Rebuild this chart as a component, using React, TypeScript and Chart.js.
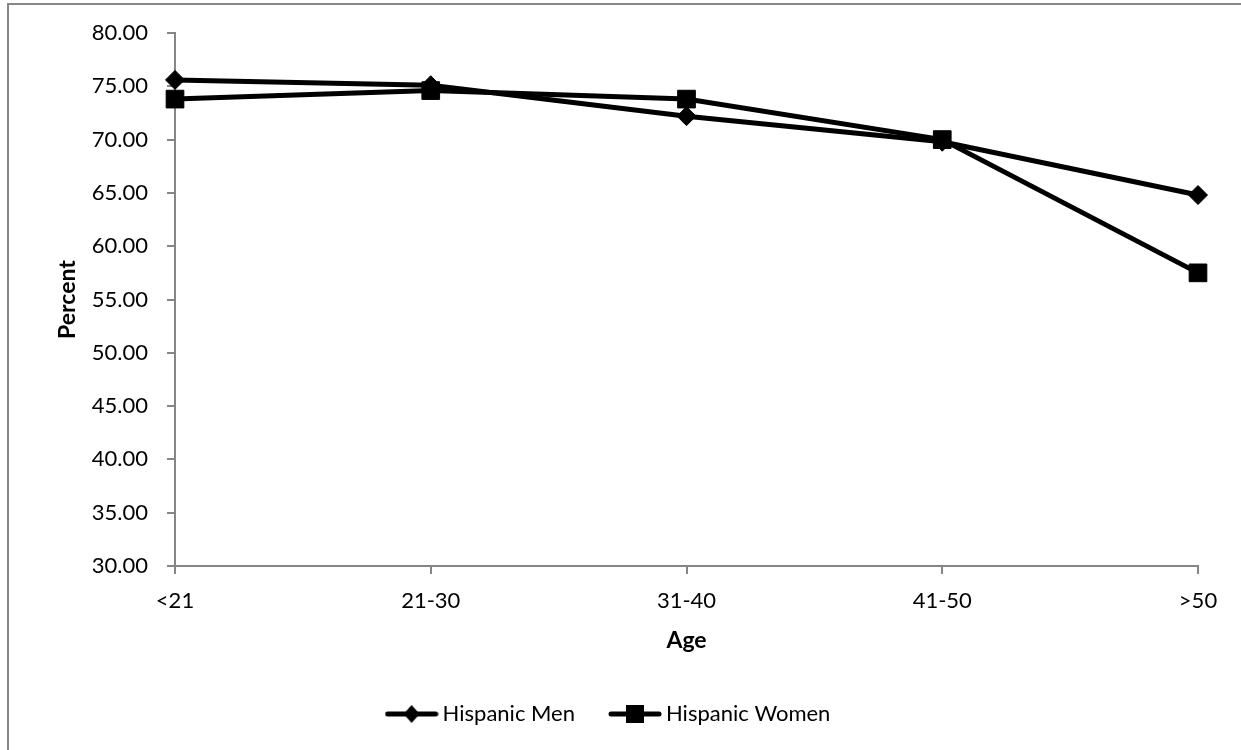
import React, { useEffect, useRef } from "react";
import { Chart, registerables } from "chart.js";

Chart.register(...registerables);

const categories = ["<21", "21-30", "31-40", "41-50", ">50"];
const menValues = [75.6, 75.1, 72.2, 69.8, 64.8];
const womenValues = [73.8, 74.6, 73.8, 70.0, 57.5];
const seriesNames = ["Hispanic Men", "Hispanic Women"];
const yMin = 30;
const yMax = 80;
const yStep = 5;

const FONT = "Lato, 'Open Sans', sans-serif";
const AXIS_GRAY = "#868686";

function makeIcon(style: "diamond" | "square"): HTMLCanvasElement {
  const c = document.createElement("canvas");
  c.width = 54;
  c.height = 22;
  const ctx = c.getContext("2d")!;
  ctx.strokeStyle = "#000";
  ctx.fillStyle = "#000";
  ctx.lineWidth = 5;
  ctx.lineCap = "round";
  ctx.beginPath();
  ctx.moveTo(3, 11);
  ctx.lineTo(51, 11);
  ctx.stroke();
  ctx.beginPath();
  if (style === "diamond") {
    ctx.moveTo(27, 2);
    ctx.lineTo(35, 11);
    ctx.lineTo(27, 20);
    ctx.lineTo(19, 11);
    ctx.closePath();
  } else {
    ctx.rect(18, 2, 18, 18);
  }
  ctx.fill();
  return c;
}

export default function App() {
  const canvasRef = useRef<HTMLCanvasElement | null>(null);

  useEffect(() => {
    if (!canvasRef.current) return;
    const icons = [makeIcon("diamond"), makeIcon("square")];
    const chart = new Chart(canvasRef.current, {
      type: "line",
      data: {
        labels: categories,
        datasets: [
          {
            label: seriesNames[0],
            data: menValues,
            borderColor: "#000",
            backgroundColor: "#000",
            borderWidth: 5,
            pointStyle: "rectRot",
            pointRadius: 9.5,
            pointBorderWidth: 1,
            pointBorderColor: "#000",
            pointBackgroundColor: "#000",
            tension: 0,
            order: 2,
          },
          {
            label: seriesNames[1],
            data: womenValues,
            borderColor: "#000",
            backgroundColor: "#000",
            borderWidth: 5,
            pointStyle: "rect",
            pointRadius: 12.5,
            pointBorderWidth: 1,
            pointBorderColor: "#000",
            pointBackgroundColor: "#000",
            tension: 0,
            order: 1,
          },
        ],
      },
      options: {
        responsive: false,
        animation: false,
        devicePixelRatio: 1,
        layout: { padding: { top: 33, right: 43, left: 24, bottom: 15 } },
        plugins: {
          title: { display: false },
          tooltip: { enabled: false },
          legend: {
            display: true,
            position: "bottom",
            labels: {
              usePointStyle: true,
              pointStyleWidth: 40,
              padding: 40,
              color: "#000",
              font: { family: FONT, size: 22 },
              generateLabels: (ch: any) =>
                ch.data.datasets.map((ds: any, i: number) => ({
                  text: ds.label,
                  fillStyle: "#000",
                  strokeStyle: "#000",
                  lineWidth: 0,
                  pointStyle: icons[i],
                  hidden: false,
                  datasetIndex: i,
                  fontColor: "#000",
                })),
            },
          },
        },
        scales: {
          x: {
            type: "category",
            offset: false,
            afterFit: (s: any) => {
              s.height = 97;
            },
            grid: {
              display: true,
              drawOnChartArea: false,
              drawTicks: true,
              tickLength: 8,
              color: AXIS_GRAY,
              lineWidth: 2,
              offset: false,
            },
            border: { display: true, color: AXIS_GRAY, width: 2 },
            ticks: {
              color: "#000",
              font: { family: FONT, size: 22 },
              padding: 14,
              maxRotation: 0,
            },
            title: {
              display: true,
              text: "Age",
              color: "#000",
              font: { family: FONT, size: 23, weight: "bold" },
              padding: { top: 4, bottom: 9 },
            },
          },
          y: {
            min: yMin,
            max: yMax,
            afterFit: (s: any) => {
              s.width = 151;
            },
            grid: {
              display: true,
              drawOnChartArea: false,
              drawTicks: true,
              tickLength: 8,
              color: AXIS_GRAY,
              lineWidth: 2,
            },
            border: { display: true, color: AXIS_GRAY, width: 2 },
            ticks: {
              stepSize: yStep,
              color: "#000",
              font: { family: FONT, size: 22 },
              padding: 19,
              callback: (v: any) => Number(v).toFixed(2),
            },
            title: {
              display: true,
              text: "Percent",
              color: "#000",
              font: { family: FONT, size: 23, weight: "bold" },
              padding: { top: 30, bottom: 4 },
            },
          },
        },
      },
    } as any);
    return () => chart.destroy();
  }, []);

  return (
    <div style={{ position: "fixed", left: 0, top: 0, width: 1241, height: 750, background: "#fff", overflow: "hidden" }}>
      <div
        style={{
          position: "absolute",
          left: 7,
          top: 3,
          width: 1300,
          height: 800,
          borderLeft: `2px solid ${AXIS_GRAY}`,
          borderTop: `2px solid ${AXIS_GRAY}`,
        }}
      />
      <canvas ref={canvasRef} width={1241} height={750} style={{ position: "absolute", left: 0, top: 0 }} />
    </div>
  );
}
